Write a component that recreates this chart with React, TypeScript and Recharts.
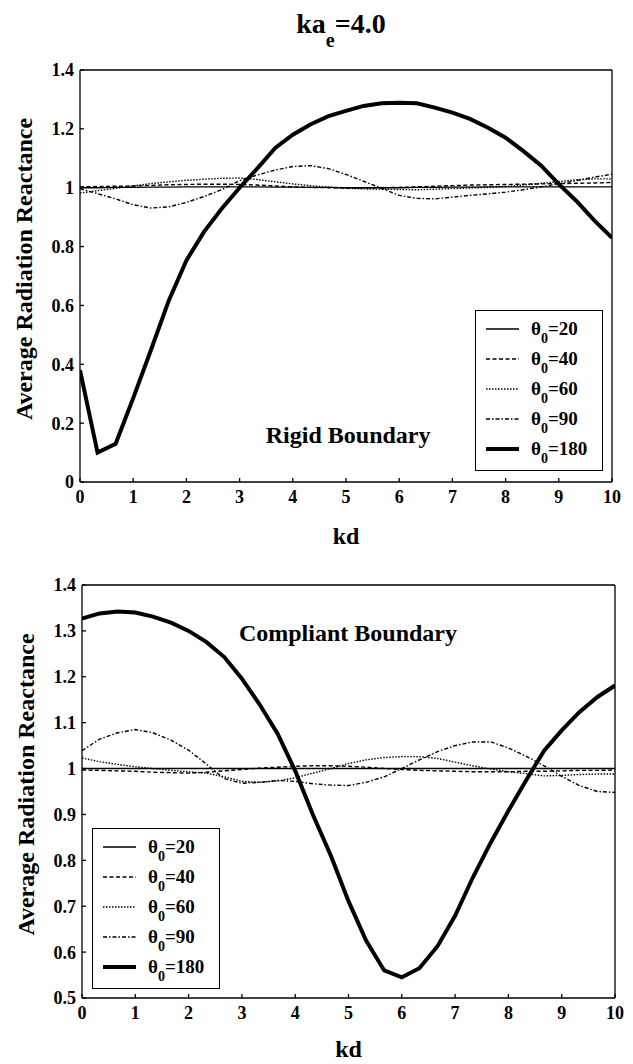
import { LineChart, Line, XAxis, YAxis, Legend, ReferenceDot } from 'recharts'

// kd sample points (step of 1/3)
const KD = [
  0, 0.33, 0.67, 1, 1.33, 1.67, 2, 2.33, 2.67, 3, 3.33, 3.67, 4, 4.33, 4.67, 5,
  5.33, 5.67, 6, 6.33, 6.67, 7, 7.33, 7.67, 8, 8.33, 8.67, 9, 9.33, 9.67, 10,
]

// rigid boundary, one array per theta0
const RIGID_20 = [
  1.0, 1.0, 1.001, 1.001, 1.002, 1.002, 1.003, 1.003, 1.003, 1.003, 1.003, 1.002, 1.002, 1.001, 1.001, 1.0,
  1.0, 1.0, 1.0, 1.001, 1.001, 1.002, 1.002, 1.003, 1.003, 1.003, 1.003, 1.003, 1.003, 1.003, 1.003,
]
const RIGID_40 = [
  1.003, 1.004, 1.005, 1.006, 1.008, 1.01, 1.011, 1.012, 1.012, 1.011, 1.009, 1.006, 1.003, 1.001, 1.0, 0.999,
  0.999, 1.0, 1.001, 1.003, 1.005, 1.007, 1.009, 1.01, 1.011, 1.012, 1.013, 1.014, 1.015, 1.016, 1.018,
]
const RIGID_60 = [
  0.982, 0.99, 0.998, 1.006, 1.014, 1.02, 1.025, 1.029, 1.032, 1.033, 1.028, 1.02, 1.013, 1.007, 1.002, 0.998,
  0.996, 0.995, 0.994, 0.993, 0.995, 0.997, 0.999, 1.001, 1.004, 1.009, 1.015, 1.021, 1.027, 1.03, 1.03,
]
const RIGID_90 = [
  0.996, 0.98, 0.962, 0.942, 0.931, 0.935, 0.95, 0.97, 0.994, 1.024, 1.043, 1.06, 1.072, 1.075, 1.065, 1.045,
  1.022, 0.998, 0.974, 0.964, 0.962, 0.968, 0.974, 0.979, 0.985, 0.993, 1.003, 1.013, 1.024, 1.036, 1.046,
]
const RIGID_180 = [
  0.38, 0.1, 0.13, 0.285, 0.447, 0.617, 0.753, 0.85, 0.93, 1.0, 1.065, 1.135, 1.18, 1.215, 1.243, 1.261,
  1.278, 1.287, 1.289, 1.287, 1.272, 1.255, 1.234, 1.204, 1.17, 1.125, 1.075, 1.012, 0.955, 0.888, 0.83,
]

// compliant boundary
const COMPLIANT_20 = [
  1.0, 1.0, 1.0, 1.0, 1.0, 1.0, 1.0, 1.0, 1.0, 1.0, 1.0, 1.0, 1.0, 1.0, 1.0, 1.0,
  1.0, 1.0, 1.0, 1.0, 1.0, 1.0, 1.0, 1.0, 1.0, 1.0, 1.0, 1.0, 1.0, 1.0, 1.0,
]
const COMPLIANT_40 = [
  0.997, 0.996, 0.995, 0.994, 0.992, 0.991, 0.99, 0.992, 0.995, 0.998, 1.001, 1.003, 1.005, 1.006, 1.006, 1.005,
  1.003, 1.0, 0.998, 0.996, 0.995, 0.994, 0.993, 0.993, 0.993, 0.994, 0.994, 0.995, 0.996, 0.996, 0.997,
]
const COMPLIANT_60 = [
  1.023, 1.015, 1.009, 1.004, 1.0, 0.996, 0.993, 0.99, 0.982, 0.972, 0.97, 0.973, 0.98, 0.99, 1.0, 1.011,
  1.019, 1.024, 1.026, 1.026, 1.022, 1.014, 1.006, 0.999, 0.993, 0.989, 0.984, 0.985, 0.987, 0.988, 0.988,
]
const COMPLIANT_90 = [
  1.039, 1.064, 1.078, 1.085, 1.078, 1.062, 1.04, 1.01, 0.978, 0.968, 0.97, 0.974, 0.972, 0.967, 0.964, 0.963,
  0.97, 0.982, 1.0, 1.019, 1.037, 1.05, 1.058, 1.058, 1.045, 1.027, 1.006, 0.983, 0.963, 0.95, 0.948,
]
const COMPLIANT_180 = [
  1.327, 1.338, 1.342, 1.34, 1.331, 1.318, 1.3, 1.276, 1.243, 1.196, 1.14, 1.076, 0.995, 0.9, 0.81, 0.711,
  0.625, 0.56, 0.545, 0.565, 0.613, 0.679, 0.762, 0.839, 0.908, 0.974, 1.039, 1.083, 1.123, 1.156, 1.181,
]

const X_TICKS = [0, 1, 2, 3, 4, 5, 6, 7, 8, 9, 10]
const RIGID_Y_TICKS = [0, 0.2, 0.4, 0.6, 0.8, 1, 1.2, 1.4]
const COMPLIANT_Y_TICKS = [0.5, 0.6, 0.7, 0.8, 0.9, 1, 1.1, 1.2, 1.3, 1.4]

const SERIES = [
  { key: 't20', label: '20', dash: undefined, width: 1.4 },
  { key: 't40', label: '40', dash: '4 2.5', width: 1.4 },
  { key: 't60', label: '60', dash: '1.5 1.5', width: 1.4 },
  { key: 't90', label: '90', dash: '4 2 1.5 2', width: 1.4 },
  { key: 't180', label: '180', dash: undefined, width: 4 },
]

const FONT = '"Liberation Serif", "Times New Roman", serif'

function toRows(cols: number[][]) {
  return KD.map((kd, i) => ({
    kd,
    t20: cols[0][i],
    t40: cols[1][i],
    t60: cols[2][i],
    t90: cols[3][i],
    t180: cols[4][i],
  }))
}

const rigidRows = toRows([RIGID_20, RIGID_40, RIGID_60, RIGID_90, RIGID_180])
const compliantRows = toRows([COMPLIANT_20, COMPLIANT_40, COMPLIANT_60, COMPLIANT_90, COMPLIANT_180])

function ThetaLegend() {
  return (
    <div
      style={{
        border: '1.3px solid #000',
        background: '#fff',
        boxSizing: 'border-box',
        width: 128,
        height: 161,
        padding: '3px 0 0 10px',
        fontFamily: FONT,
        fontWeight: 'bold',
        fontSize: 19,
        color: '#000',
      }}
    >
      {SERIES.map((s) => (
        <div key={s.key} style={{ display: 'flex', alignItems: 'center', height: 30 }}>
          <svg width={33} height={8}>
            <line x1={0} x2={33} y1={4} y2={4} stroke="#000" strokeWidth={s.width} strokeDasharray={s.dash} />
          </svg>
          <span style={{ marginLeft: 12, lineHeight: '19px', whiteSpace: 'nowrap' }}>
            θ<span style={{ fontSize: 14, position: 'relative', top: 8 }}>0</span>={s.label}
          </span>
        </div>
      ))}
    </div>
  )
}

function yTitle(p: any) {
  const vb = p.viewBox
  const cx = vb.x - 55
  const cy = vb.y + vb.height / 2 - 7
  return (
    <text
      x={cx}
      y={cy}
      transform={`rotate(-90 ${cx} ${cy})`}
      textAnchor="middle"
      dominantBaseline="central"
      fill="#000"
      fontFamily={FONT}
      fontWeight="bold"
      fontSize={24}
    >
      Average Radiation Reactance
    </text>
  )
}

interface PanelProps {
  rows: ReturnType<typeof toRows>
  height: number
  margin: { top: number; right: number; bottom: number; left: number }
  yDomain: [number, number]
  yTicks: number[]
  legendPos: { left: number; top: number }
  note: { text: string; x: number; y: number }
  kdOffset: number
}

const axisStroke = { stroke: '#000', strokeWidth: 1.3 }
const tickFont = { fill: '#000', fontSize: 18, fontWeight: 'bold', fontFamily: FONT }

// axes are 1px thick so recharts still draws them; negative tickSize turns the ticks inward
function Panel({ rows, height, margin, yDomain, yTicks, legendPos, note, kdOffset }: PanelProps) {
  return (
    <LineChart width={633} height={height} data={rows} margin={margin}>
      <XAxis
        dataKey="kd"
        type="number"
        domain={[0, 10]}
        ticks={X_TICKS}
        interval={0}
        allowDataOverflow
        height={1}
        tickSize={-4}
        tickMargin={12}
        axisLine={axisStroke}
        tickLine={axisStroke}
        tick={tickFont}
        label={{
          value: 'kd',
          position: 'bottom',
          offset: kdOffset,
          fill: '#000',
          fontSize: 24,
          fontWeight: 'bold',
          fontFamily: FONT,
        }}
      />
      <XAxis
        xAxisId="top"
        dataKey="kd"
        orientation="top"
        type="number"
        domain={[0, 10]}
        ticks={X_TICKS}
        interval={0}
        allowDataOverflow
        height={1}
        tickSize={-4}
        axisLine={axisStroke}
        tickLine={axisStroke}
        tick={false}
      />
      <YAxis
        type="number"
        domain={yDomain}
        ticks={yTicks}
        interval={0}
        allowDataOverflow
        width={1}
        tickSize={-4}
        tickMargin={10}
        axisLine={axisStroke}
        tickLine={axisStroke}
        tick={tickFont}
        label={yTitle}
      />
      <YAxis
        yAxisId="right"
        orientation="right"
        type="number"
        domain={yDomain}
        ticks={yTicks}
        interval={0}
        allowDataOverflow
        width={1}
        tickSize={-4}
        axisLine={axisStroke}
        tickLine={axisStroke}
        tick={false}
      />
      {SERIES.map((s) => (
        <Line
          key={s.key}
          dataKey={s.key}
          type="linear"
          stroke="#000"
          strokeWidth={s.width}
          strokeDasharray={s.dash}
          dot={false}
          activeDot={false}
          isAnimationActive={false}
        />
      ))}
      <ReferenceDot
        x={note.x}
        y={note.y}
        r={0}
        stroke="none"
        fill="none"
        label={{
          value: note.text,
          position: 'center',
          fill: '#000',
          fontSize: 24,
          fontWeight: 'bold',
          fontFamily: FONT,
        }}
      />
      <Legend
        layout="vertical"
        align="center"
        verticalAlign="middle"
        content={<ThetaLegend />}
        wrapperStyle={{ left: legendPos.left, top: legendPos.top, width: 128, height: 161 }}
      />
    </LineChart>
  )
}

export default function App() {
  return (
    <div style={{ position: 'absolute', left: 0, top: 0, width: 633, height: 1064, background: '#fff' }}>
      <div
        style={{
          position: 'absolute',
          top: 10,
          left: 0,
          width: 682,
          textAlign: 'center',
          fontFamily: FONT,
          fontWeight: 'bold',
          fontSize: 28,
          lineHeight: '28px',
          color: '#000',
          whiteSpace: 'nowrap',
        }}
      >
        ka<span style={{ fontSize: 20, position: 'relative', top: 14 }}>e</span>=4.0
      </div>
      <div style={{ position: 'absolute', left: 0, top: 0 }}>
        <Panel
          rows={rigidRows}
          height={560}
          margin={{ top: 69, right: 20, bottom: 77, left: 79 }}
          yDomain={[0, 1.4]}
          yTicks={RIGID_Y_TICKS}
          legendPos={{ left: 475, top: 310 }}
          note={{ text: 'Rigid Boundary', x: 5.04, y: 0.16 }}
          kdOffset={44}
        />
      </div>
      <div style={{ position: 'absolute', left: 0, top: 560 }}>
        <Panel
          rows={compliantRows}
          height={504}
          margin={{ top: 24, right: 17, bottom: 65, left: 81 }}
          yDomain={[0.5, 1.4]}
          yTicks={COMPLIANT_Y_TICKS}
          legendPos={{ left: 92, top: 268 }}
          note={{ text: 'Compliant Boundary', x: 4.99, y: 1.297 }}
          kdOffset={41}
        />
      </div>
    </div>
  )
}
